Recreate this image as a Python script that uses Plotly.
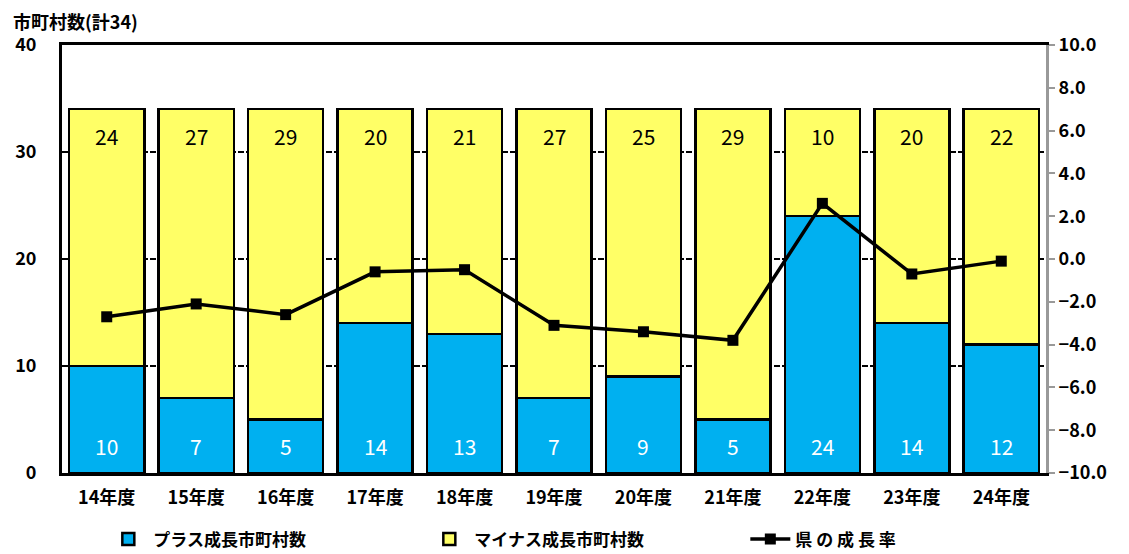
import plotly.graph_objects as go

categories = ["14年度", "15年度", "16年度", "17年度", "18年度", "19年度",
              "20年度", "21年度", "22年度", "23年度", "24年度"]
plus_counts = [10, 7, 5, 14, 13, 7, 9, 5, 24, 14, 12]
minus_counts = [24, 27, 29, 20, 21, 27, 25, 29, 10, 20, 22]
growth_rate = [-2.7, -2.1, -2.6, -0.6, -0.5, -3.1, -3.4, -3.8, 2.6, -0.7, -0.1]

FONT = "Noto Sans CJK JP"
BLUE = "#00B0F0"
YELLOW = "#FFFF66"

fig = go.Figure()
fig.add_trace(go.Bar(
    x=categories, y=plus_counts, name="プラス成長市町村数",
    marker=dict(color=BLUE, line=dict(color="black", width=2.5)),
))
fig.add_trace(go.Bar(
    x=categories, y=minus_counts, name="マイナス成長市町村数",
    marker=dict(color=YELLOW, line=dict(color="black", width=2.5)),
))
fig.add_trace(go.Scatter(
    x=categories, y=growth_rate, name="県 の 成 長 率", yaxis="y2",
    mode="lines+markers",
    line=dict(color="black", width=3.5),
    marker=dict(symbol="square", size=11, color="black"),
))

annotations = []
for c, p, m in zip(categories, plus_counts, minus_counts):
    annotations.append(dict(x=c, y=0, yref="y", xref="x", text=str(p),
                            showarrow=False, yshift=27,
                            font=dict(family=FONT, size=21, color="white")))
    annotations.append(dict(x=c, y=p + m, yref="y", xref="x", text=str(m),
                            showarrow=False, yshift=-27,
                            font=dict(family=FONT, size=21, color="black")))
annotations.append(dict(x=-0.052, y=1.056, xref="paper", yref="paper",
                        xanchor="left", yanchor="middle", showarrow=False,
                        text="<b>市町村数(計34)</b>",
                        font=dict(family=FONT, size=18, color="black")))

# the page body adds an 8px offset, so the figure is 8px smaller
fig.update_layout(
    width=1121, height=546,
    margin=dict(l=54, r=83, t=37, b=81, autoexpand=False),
    paper_bgcolor="white", plot_bgcolor="white",
    barmode="stack", bargap=0.16,
    font=dict(family=FONT, color="black"),
    annotations=annotations,
    showlegend=True,
    legend=dict(orientation="h", x=0.042, xanchor="left", y=-0.155,
                yanchor="middle", font=dict(family=FONT, size=17, weight="bold"),
                entrywidth=266, entrywidthmode="pixels", itemwidth=40,
                traceorder="normal"),
    xaxis=dict(range=[-0.5, len(categories) - 0.5],
               showline=True, linecolor="black", linewidth=3, mirror=True,
               ticks="", tickfont=dict(family=FONT, size=18, weight="bold"),
               showgrid=False, automargin=False, ticklabelstandoff=6),
    yaxis=dict(range=[0, 40], dtick=10, showline=True, linecolor="black",
               linewidth=3, ticks="", showgrid=True, gridcolor="black",
               gridwidth=2, griddash="6px,2px", zeroline=False,
               tickfont=dict(family=FONT, size=18, weight="bold"),
               ticklabelstandoff=19, automargin=False),
    yaxis2=dict(range=[-10, 10], dtick=2, overlaying="y", side="right",
                showline=True, linecolor="#999999", linewidth=3,
                ticks="outside", tickcolor="#999999", ticklen=6, tickwidth=2,
                tickformat=".1f", showgrid=False, zeroline=False,
                tickfont=dict(family=FONT, size=18, weight="bold"),
                automargin=False),
)

fig.write_html("out.html")
